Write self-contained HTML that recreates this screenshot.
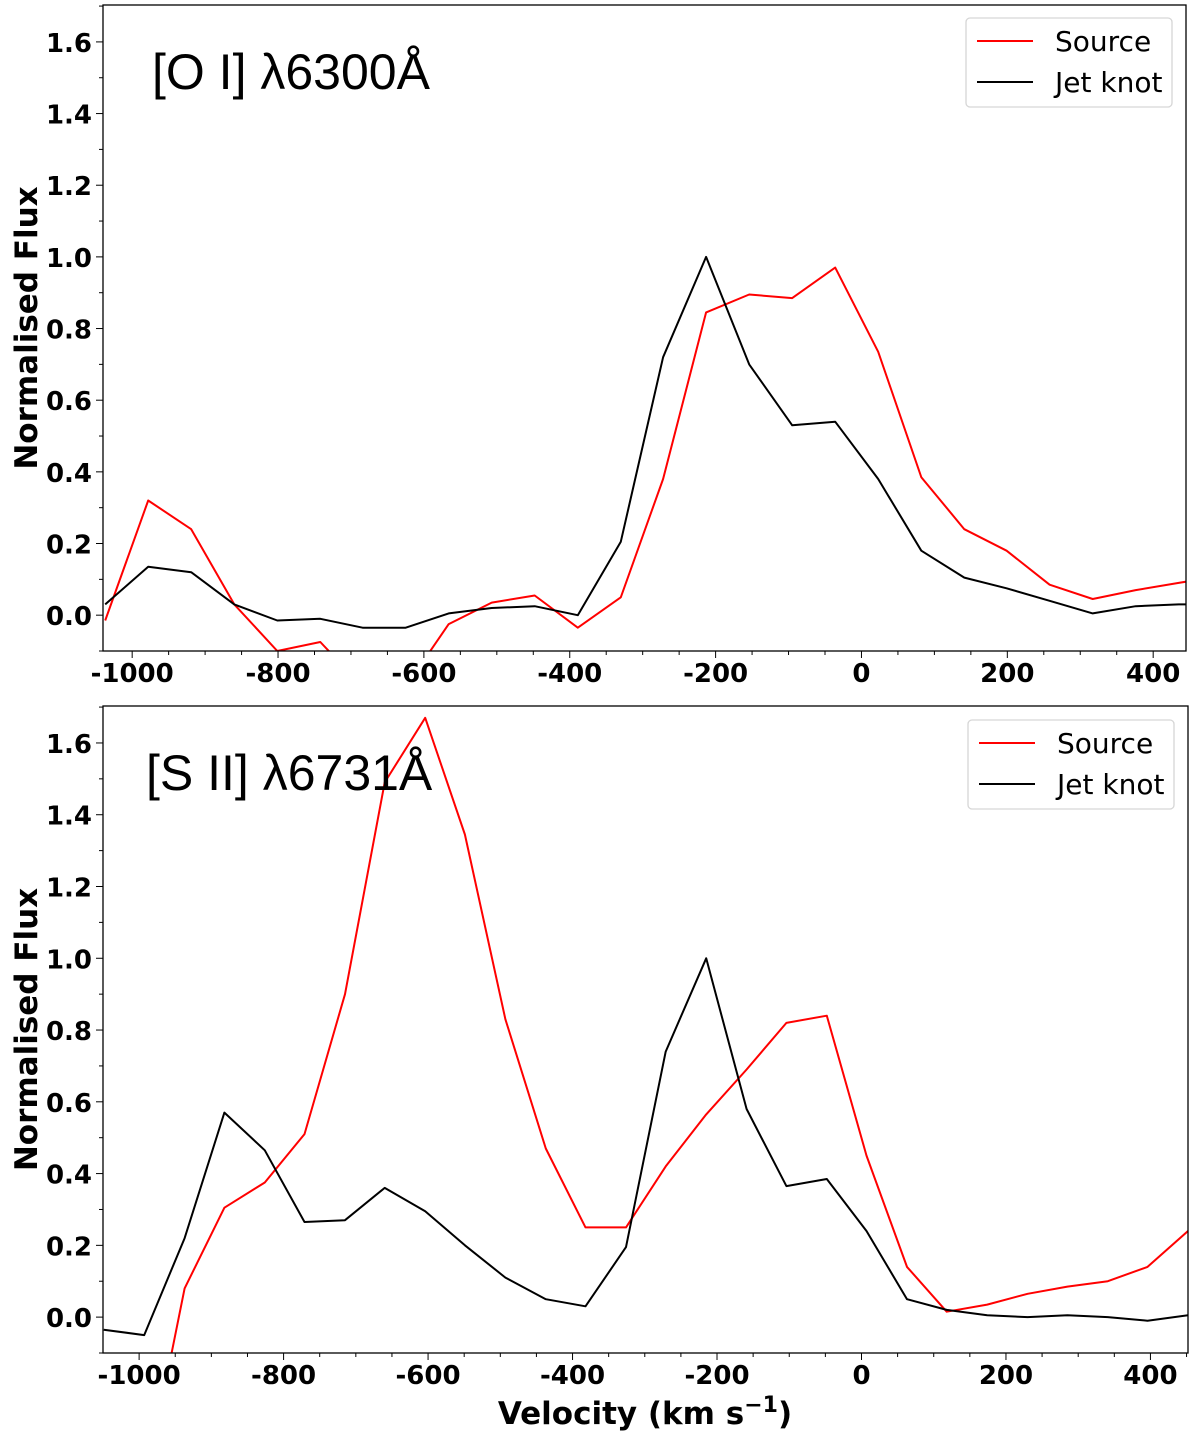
<!DOCTYPE html>
<html><head><meta charset="utf-8"><style>
html,body{margin:0;padding:0;background:#fff;width:1200px;height:1438px;overflow:hidden;}
svg{display:block;font-family:"DejaVu Sans","Liberation Sans",sans-serif;}
</style></head><body>
<svg id="fig" width="1200" height="1438" viewBox="0 0 1200 1438" xmlns="http://www.w3.org/2000/svg"></svg>
<script>
const topVel = [-1037,-978,-919,-860,-801,-742,-684,-625,-566,-507,-448,-389,-330,-272,-213,-154,-95,-36,23,82,141,199,258,317,376,435,494];
const topSource = [-0.015,0.32,0.24,0.03,-0.1,-0.075,-0.2,-0.2,-0.025,0.035,0.055,-0.035,0.05,0.38,0.845,0.895,0.885,0.97,0.735,0.385,0.24,0.18,0.085,0.045,0.07,0.09,0.11];
const topJet = [0.03,0.135,0.12,0.03,-0.015,-0.01,-0.035,-0.035,0.005,0.02,0.025,0.0,0.205,0.72,1.0,0.7,0.53,0.54,0.38,0.18,0.105,0.075,0.04,0.005,0.025,0.03,0.03];
const botVel = [-1049,-993,-937,-882,-826,-771,-715,-660,-604,-549,-493,-437,-382,-326,-271,-215,-159,-104,-48,7,63,118,174,230,285,341,396,452];
const botSource = [-1.0,-0.48,0.08,0.305,0.375,0.51,0.9,1.49,1.67,1.345,0.83,0.47,0.25,0.25,0.42,0.565,0.69,0.82,0.84,0.45,0.14,0.015,0.035,0.065,0.085,0.1,0.14,0.24];
const botJet = [-0.035,-0.05,0.22,0.57,0.465,0.265,0.27,0.36,0.295,0.2,0.11,0.05,0.03,0.195,0.74,1.0,0.58,0.365,0.385,0.24,0.05,0.02,0.005,0.0,0.005,0.0,-0.01,0.005];
const xTicks = [-1000,-800,-600,-400,-200,0,200,400];
const yTicks = [0.0,0.2,0.4,0.6,0.8,1.0,1.2,1.4,1.6];
const seriesNames = ["Source","Jet knot"];

const NS="http://www.w3.org/2000/svg";
const fig=document.getElementById('fig');
function mk(tag,attrs,parent,text){const e=document.createElementNS(NS,tag);for(const k in attrs)e.setAttribute(k,attrs[k]);if(text!==undefined)e.textContent=text;(parent||fig).appendChild(e);return e;}

function panel(id,box,xdom,title,vel,src,jet,legY){
  const [L,T,R,B]=box;
  const sx=v=>L+(v-xdom[0])/(xdom[1]-xdom[0])*(R-L);
  const sy=v=>B-(v-(-0.1))/(1.703-(-0.1))*(B-T);
  const g=mk('g',{});
  
  
  const cid='clip-'+id;
  const defs=mk('defs',{},g);
  const cp=mk('clipPath',{id:cid},defs);
  mk('rect',{x:L,y:T,width:R-L,height:B-T},cp);
  const lines=[[src,'#ff0000','source-line'],[jet,'#000000','jet-knot-line']];
  lines.forEach(([d,c,n])=>{
    const pts=vel.map((v,i)=>sx(v).toFixed(1)+','+sy(d[i]).toFixed(1)).join(' ');
    const pl=mk('polyline',{points:pts,fill:'none',stroke:c,'stroke-width':2,'clip-path':'url(#'+cid+')','stroke-linejoin':'round'},g);
    
    
  });
  const fr=mk('rect',{x:L,y:T,width:R-L,height:B-T,fill:'none',stroke:'#000','stroke-width':1.3},g);
  
  
  for(let v=-1000;v<=450;v+=50){
    const x=sx(v); if(x<L||x>R) continue;
    const major=v%200===0;
    mk('line',{x1:x,x2:x,y1:B,y2:B+(major?7:4),stroke:'#000','stroke-width':1},g);
  }
  xTicks.forEach(v=>{
    const t=mk('text',{x:sx(v),y:B+31,'text-anchor':'middle','font-size':26,'font-weight':'bold'},g,String(v));
    
    
  });
  for(let k=-1;k<=17;k++){
    const v=k/10; const y=sy(v); if(y<T||y>B) continue;
    const major=k%2===0;
    mk('line',{x1:L,x2:L-(major?7:4),y1:y,y2:y,stroke:'#000','stroke-width':1},g);
  }
  yTicks.forEach(v=>{
    const t=mk('text',{x:L-11,y:sy(v)+10,'text-anchor':'end','font-size':26,'font-weight':'bold'},g,v.toFixed(1));
    
    
  });
  const yl=mk('text',{x:0,y:0,transform:'translate(37,'+((T+B)/2)+') rotate(-90)','text-anchor':'middle','font-size':31,'font-weight':'bold'},g,'Normalised Flux');
  
  
  const tt=mk('text',{x:title[1],y:T+84,'font-size':50,'font-family':'Liberation Sans, sans-serif'},g,title[0]);
  
  
  const lx=R-220, ly=legY;
  const lg=mk('g',{},g);
  
  
  mk('rect',{x:lx,y:ly,width:206,height:89,rx:4,fill:'#fff',stroke:'#d6d6d6','stroke-width':1.3},lg);
  [['#ff0000',0],['#000000',1]].forEach(([c,i])=>{
    const e=mk('g',{},lg);
    
    
    const yy=ly+23+i*41;
    mk('line',{x1:lx+11,x2:lx+67,y1:yy,y2:yy,stroke:c,'stroke-width':2},e);
    mk('text',{x:lx+89,y:yy+10,'font-size':28},e,seriesNames[i]);
  });
}
panel('oi',[103,5,1186,651],[-1040,445],['[O I] λ6300Å',152],topVel,topSource,topJet,18);
panel('sii',[103,706,1188,1353],[-1050,452],['[S II] λ6731Å',146],botVel,botSource,botJet,720);
const xl=mk('text',{x:645,y:1424,'text-anchor':'middle','font-size':31,'font-weight':'bold'});


xl.innerHTML='Velocity (km s<tspan dy="-12" font-size="22">−1</tspan><tspan dy="12">)</tspan>';
</script>
</body></html>
